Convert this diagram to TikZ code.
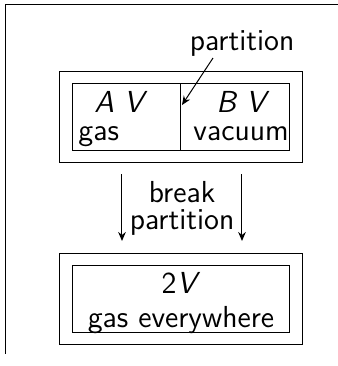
\documentclass[tikz,border=0pt]{standalone}
\usetikzlibrary{arrows.meta}
\begin{document}
\begin{tikzpicture}[x=0.5pt,y=-0.5pt,line width=0.5pt,
  font=\sffamily\fontsize{15.2}{13.5}\selectfont,
  lbl/.style={anchor=base,inner sep=0pt},
  arr/.style={-{Stealth[length=4.5pt,width=3.8pt]}}]
\useasboundingbox (0,0) rectangle (338,366);
% frame
\draw (338,4) -- (6,4) -- (6,354);
% top boxes
\node[draw,inner sep=0pt,minimum width=121.5pt,minimum height=45.5pt] (outA) at (181.5,116.5) {};
\node[draw,inner sep=0pt,minimum width=108.5pt,minimum height=33.5pt] (inA) at (181.5,116.5) {};
\coordinate (divT) at (181,83);
\coordinate (divB) at (181,150);
\draw (divT) -- (divB);
\node[lbl] (AV) at (121,112) {\textit{A V}};
\node[lbl,anchor=base west] (gas) at (78,140) {gas};
\node[lbl] (BV) at (243,112) {\textit{B V}};
\node[lbl] (vac) at (241,140) {vacuum};
\node[lbl] (part) at (242,50) {partition};
\coordinate (ptip) at (182,105);
\draw[arr] (213,58) -- (ptip);
% arrows
\coordinate (l1) at (122,174); \coordinate (l2) at (122,241);
\coordinate (r1) at (242,174); \coordinate (r2) at (242,241);
\draw[arr] (l1) -- (l2);
\draw[arr] (r1) -- (r2);
\node[lbl,align=center] (brk) at (182,229) {break\\partition};
% bottom boxes
\node[draw,inner sep=0pt,minimum width=121.5pt,minimum height=45.5pt] (outB) at (181.5,298.5) {};
\node[draw,inner sep=0pt,minimum width=108.5pt,minimum height=33.5pt] (inB) at (181.5,298.5) {};
\node[lbl] (twoV) at (181,293) {2\textit{V}};
\node[lbl] (ge) at (181,327) {gas everywhere};
\end{tikzpicture}
\end{document}
